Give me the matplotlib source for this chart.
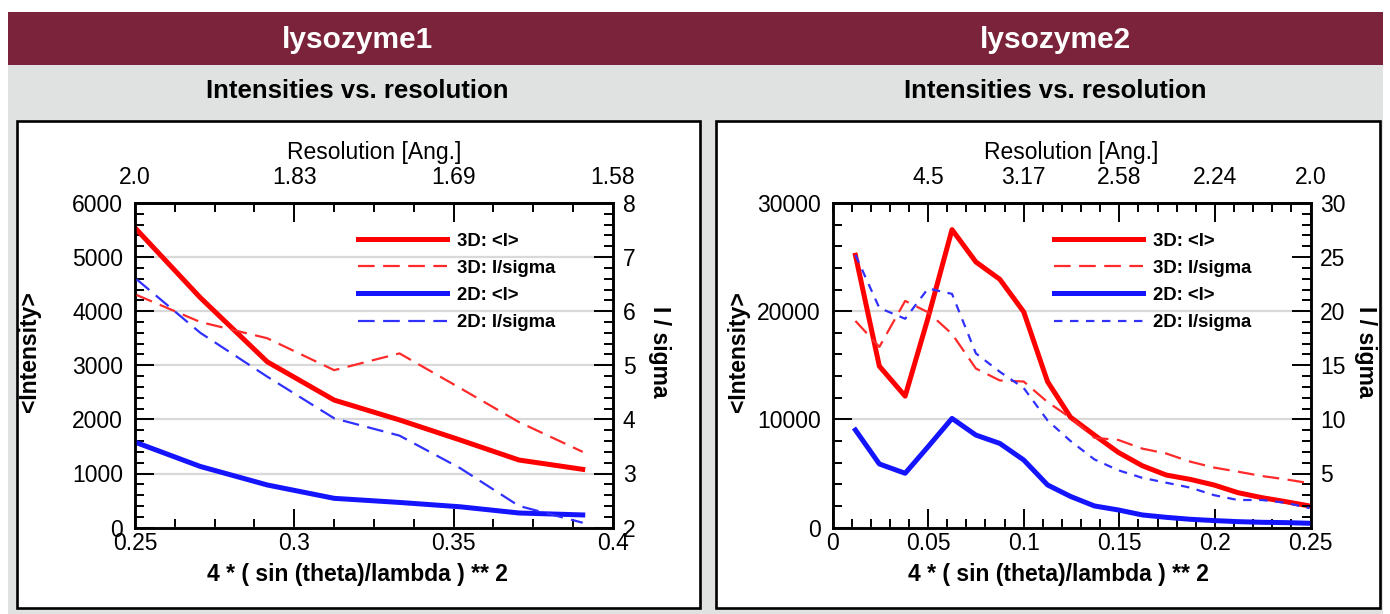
import matplotlib
matplotlib.use('Agg')
import matplotlib.pyplot as plt
from matplotlib.patches import Rectangle
from matplotlib.ticker import MultipleLocator

plt.rcParams['font.family'] = ['Liberation Sans', 'DejaVu Sans']

W, H = 1390, 614

# ---------------- data ----------------
panel_titles = ['lysozyme1', 'lysozyme2']
subtitle = 'Intensities vs. resolution'
x_label = '4 * ( sin (theta)/lambda ) ** 2'
top_label = 'Resolution [Ang.]'
y_label_left = '<Intensity>'
y_label_right = 'I / sigma'
series_labels = ['3D: <I>', '3D: I/sigma', '2D: <I>', '2D: I/sigma']

lyso1_x = [0.2505, 0.2705, 0.2915, 0.3125, 0.333, 0.352, 0.3705, 0.3905]
lyso1_I_3d = [5510, 4250, 3065, 2357, 1990, 1620, 1249, 1077]
lyso1_IsigI_3d = [6.3, 5.8, 5.5, 4.91, 5.22, 4.58, 3.95, 3.4]
lyso1_I_2d = [1569, 1130, 788, 541, 465, 385, 270, 234]
lyso1_IsigI_2d = [6.59, 5.6, 4.79, 4.02, 3.7, 3.1, 2.4, 2.09]
lyso1_xticks = [0.25, 0.3, 0.35, 0.4]
lyso1_xticklabels = ['0.25', '0.3', '0.35', '0.4']
lyso1_res_labels = ['2.0', '1.83', '1.69', '1.58']
lyso1_yticks = [0, 1000, 2000, 3000, 4000, 5000, 6000]
lyso1_y2ticks = [2, 3, 4, 5, 6, 7, 8]

lyso2_x = [0.012, 0.0245, 0.038, 0.05, 0.0625, 0.075, 0.0875, 0.1, 0.1125, 0.1245,
           0.137, 0.1495, 0.162, 0.1745, 0.187, 0.1995, 0.212, 0.2245, 0.237, 0.2495]
lyso2_I_3d = [25170, 14920, 12150, 19400, 27540, 24550, 22950, 19940, 13480, 10200,
              8550, 6950, 5720, 4860, 4460, 3940, 3230, 2770, 2400, 2000]
lyso2_IsigI_3d = [19.1, 16.7, 20.95, 19.9, 17.9, 14.7, 13.6, 13.5, 11.6, 10.15,
                  8.3, 8.1, 7.3, 6.85, 6.1, 5.55, 5.17, 4.77, 4.46, 4.1]
lyso2_I_2d = [9020, 5880, 5020, 7480, 10090, 8550, 7780, 6250, 3940, 2880,
              2000, 1630, 1170, 950, 770, 650, 550, 490, 460, 400]
lyso2_IsigI_2d = [25.2, 20.3, 19.3, 22.1, 21.6, 16.1, 14.4, 12.9, 9.9, 8.0,
                  6.3, 5.3, 4.6, 4.15, 3.7, 3.0, 2.55, 2.55, 2.3, 1.8]
lyso2_xticks = [0, 0.05, 0.1, 0.15, 0.2, 0.25]
lyso2_xticklabels = ['0', '0.05', '0.1', '0.15', '0.2', '0.25']
lyso2_res_ticks = [0.05, 0.1, 0.15, 0.2, 0.25]
lyso2_res_labels = ['4.5', '3.17', '2.58', '2.24', '2.0']
lyso2_yticks = [0, 10000, 20000, 30000]
lyso2_y2ticks = [5, 10, 15, 20, 25, 30]

# ---------------- style ----------------
HEADER = '#7b233b'
GRAY = '#e0e2e1'
RED = '#ff0000'
BLUE = '#1414ff'
RED_D = '#ff2a2a'
BLUE_D = '#3030ff'
TICK_FS = 16.5
LAB_FS = 16.5


def fx(px):
    return px / W


def fy(py):
    return 1 - py / H


fig = plt.figure(figsize=(W / 100, H / 100), dpi=100)
fig.patch.set_facecolor('white')

# background / header
fig.add_artist(Rectangle((fx(8), fy(614)), fx(1383 - 8), (614 - 65) / H,
                         transform=fig.transFigure, facecolor=GRAY, edgecolor='none', zorder=0))
fig.add_artist(Rectangle((fx(8), fy(65)), fx(1383 - 8), (65 - 12) / H,
                         transform=fig.transFigure, facecolor=HEADER, edgecolor='none', zorder=0))
for (x0, x1) in [(16.7, 699.5), (716, 1380)]:
    fig.add_artist(Rectangle((fx(x0), fy(608)), fx(x1 - x0), (608 - 120.7) / H,
                             transform=fig.transFigure, facecolor='white', edgecolor='black',
                             linewidth=1.9, zorder=0.5))

for title, cx in [(panel_titles[0], 357), (panel_titles[1], 1055)]:
    fig.text(fx(cx), fy(40), title, color='white', fontsize=21.5, fontweight='bold',
             ha='center', va='center')
    fig.text(fx(cx), fy(91.5), subtitle, color='black', fontsize=18.5, fontweight='bold',
             ha='center', va='center')


def draw_panel(left_px, x, i3, s3, i2, s2, xlim, xticks, xticklabels, xminor,
               res_ticks, res_labels, ylim, yticks, yminor, y2lim, y2ticks, y2minor,
               ylab_px, y2lab_px, xlab_px, leg_px, short_blue):
    top, bottom = 203.0, 527.6
    width = 478.0
    ax = fig.add_axes([fx(left_px), fy(bottom), width / W, (bottom - top) / H])
    ax.set_zorder(2)
    ax.patch.set_alpha(0)
    ax2 = ax.twinx()

    ax.set_xlim(*xlim)
    ax.set_ylim(*ylim)
    ax2.set_ylim(*y2lim)

    l1, = ax.plot(x, i3, color=RED, lw=3.6, solid_joinstyle='round', zorder=3)
    l3, = ax.plot(x, i2, color=BLUE, lw=3.6, solid_joinstyle='round', zorder=3)
    l2, = ax2.plot(x, s3, color=RED_D, lw=1.6, dashes=(7.5, 3.8), zorder=3)
    if short_blue:
        l4, = ax2.plot(x, s2, color=BLUE_D, lw=1.6, dashes=(3.8, 3.4), zorder=3)
    else:
        l4, = ax2.plot(x, s2, color=BLUE_D, lw=1.6, dashes=(7.5, 3.8), zorder=3)

    # grid
    ax.yaxis.grid(True, which='major', color='#d9d9d9', lw=1.6)
    ax.set_axisbelow(True)

    # ticks
    ax.set_xticks(xticks, labels=xticklabels)
    ax.xaxis.set_minor_locator(MultipleLocator(xminor))
    ax.set_yticks(yticks)
    ax.yaxis.set_minor_locator(MultipleLocator(yminor))
    ax2.set_yticks(y2ticks)
    ax2.yaxis.set_minor_locator(MultipleLocator(y2minor))
    ax.tick_params(axis='x', which='both', direction='in', top=False, bottom=True,
                   width=1.4, labelsize=TICK_FS, pad=3.5)
    ax.tick_params(axis='y', which='both', direction='in', left=True, right=False,
                   width=1.4, labelsize=TICK_FS, pad=8.5)
    ax2.tick_params(axis='y', which='both', direction='in', left=False, right=True,
                    width=1.4, labelsize=TICK_FS, pad=7)
    for a in (ax, ax2):
        a.tick_params(which='major', length=14)
        a.tick_params(which='minor', length=6.5)

    sec = ax.secondary_xaxis('top')
    sec.set_xticks(res_ticks, labels=res_labels)
    sec.xaxis.set_minor_locator(MultipleLocator(xminor))
    sec.tick_params(which='both', direction='in', width=1.4, labelsize=TICK_FS, pad=10)
    sec.tick_params(which='major', length=14)
    sec.tick_params(which='minor', length=6.5)

    for a in (ax, ax2):
        for s in a.spines.values():
            s.set_linewidth(1.8)
    sec.spines['top'].set_linewidth(1.8)

    # labels
    h = bottom - top
    ax.set_xlabel(x_label, fontsize=LAB_FS, fontweight='bold', ha='center', va='center')
    ax.xaxis.set_label_coords((xlab_px - left_px) / width, (bottom - 574) / h,
                              transform=ax.transAxes)
    sec.set_xlabel(top_label, fontsize=LAB_FS, ha='center', va='center')
    sec.xaxis.set_label_coords(0.5, (bottom - 153) / h, transform=ax.transAxes)
    ax.set_ylabel(y_label_left, fontsize=LAB_FS, fontweight='bold', rotation=90,
                  ha='center', va='center')
    ax.yaxis.set_label_coords((ylab_px - left_px) / width, (bottom - 352) / h,
                              transform=ax.transAxes)
    ax2.set_ylabel(y_label_right, fontsize=LAB_FS, fontweight='bold', rotation=270,
                   ha='center', va='center')
    ax2.yaxis.set_label_coords((y2lab_px - left_px) / width, (bottom - 352) / h,
                               transform=ax.transAxes)

    ax.legend([l1, l2, l3, l4], series_labels, loc='upper left',
              bbox_to_anchor=(fx(leg_px), fy(232.5)), bbox_transform=fig.transFigure,
              frameon=False, borderpad=0, borderaxespad=0,
              handlelength=4.8, handletextpad=0.55, labelspacing=0.55,
              prop={'size': 13.3, 'weight': 'bold'})
    return ax, ax2


draw_panel(135, lyso1_x, lyso1_I_3d, lyso1_IsigI_3d, lyso1_I_2d, lyso1_IsigI_2d,
           (0.25, 0.4), lyso1_xticks, lyso1_xticklabels, 0.0125,
           lyso1_xticks, lyso1_res_labels,
           (0, 6000), lyso1_yticks, 200, (2, 8), lyso1_y2ticks, 0.2,
           30, 660, 357, 358, short_blue=False)

draw_panel(832.5, lyso2_x, lyso2_I_3d, lyso2_IsigI_3d, lyso2_I_2d, lyso2_IsigI_2d,
           (0, 0.25), lyso2_xticks, lyso2_xticklabels, 0.01,
           lyso2_res_ticks, lyso2_res_labels,
           (0, 30000), lyso2_yticks, 2000, (0, 30), lyso2_y2ticks, 1,
           738, 1365, 1058, 1054, short_blue=True)

fig.savefig('out.png', dpi=100)
